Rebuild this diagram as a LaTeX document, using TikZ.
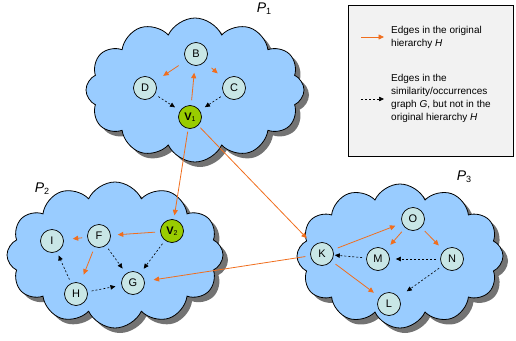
\documentclass[tikz,border=0pt]{standalone}
\usepackage{fontspec}
\setmainfont{Liberation Sans}
\usetikzlibrary{shapes.symbols,shadows,arrows.meta}
\definecolor{cloudblue}{RGB}{153,204,255}
\definecolor{nodefill}{RGB}{200,230,230}
\definecolor{vgreen}{RGB}{153,204,0}
\definecolor{horange}{RGB}{240,110,30}
\definecolor{legendgray}{RGB}{242,242,242}
\begin{document}
\begin{tikzpicture}[x=1pt,y=-1pt,
 cloudshape/.style={cloud, cloud puffs=12, cloud puff arc=130, cloud ignores aspect, draw=black, line width=0.8pt, fill=cloudblue, inner sep=0pt, drop shadow={shadow xshift=5pt, shadow yshift=-5pt, fill=black!55, opacity=1}},
 vtx/.style={circle, draw=black, line width=0.7pt, fill=nodefill, minimum size=23pt, inner sep=0pt, font=\fontsize{11}{11}\selectfont},
 vgr/.style={vtx, fill=vgreen},
 hedge/.style={draw=horange, line width=0.8pt, -{Triangle[length=5.5pt,width=5pt]}, shorten >=7pt, shorten <=5pt},
 gedge/.style={draw=black, line width=0.6pt, dash pattern=on 2pt off 2pt, -{Triangle[length=5pt,width=4.5pt]}, shorten >=6pt, shorten <=4pt},
 plabel/.style={font=\fontsize{14}{14}\selectfont},
 legtext/.style={anchor=west, align=left, inner sep=0pt, font=\fontsize{10}{13}\selectfont}]
\useasboundingbox (0,0) rectangle (516,340);
% clouds
\node[cloudshape, minimum width=218pt, minimum height=144pt] (P1c) at (195,90) {};
\node[cloudshape, minimum width=216pt, minimum height=146pt] (P2c) at (115,255) {};
\node[cloudshape, minimum width=206pt, minimum height=144pt] (P3c) at (400,256) {};
% labels
\node[plabel] (P1) at (264,9) {\textit{P}{\fontsize{9}{9}\selectfont\raisebox{-2pt}{1}}};
\node[plabel] (P2) at (42,189) {\textit{P}{\fontsize{9}{9}\selectfont\raisebox{-2pt}{2}}};
\node[plabel] (P3) at (464,177) {\textit{P}{\fontsize{9}{9}\selectfont\raisebox{-2pt}{3}}};
% P1 nodes
\node[vtx] (B) at (196,54) {B};
\node[vtx] (D) at (145,88) {D};
\node[vtx] (C) at (234,88) {C};
\node[vgr] (V1) at (190,117) {\textbf{V}{\fontsize{7}{7}\selectfont\raisebox{-1pt}{1}}};
% P2 nodes
\node[vtx] (I) at (52,241) {I};
\node[vtx] (F) at (99,236) {F};
\node[vgr] (V2) at (172,231) {\textbf{V}{\fontsize{7}{7}\selectfont\raisebox{-1pt}{2}}};
\node[vtx] (H) at (76,294) {H};
\node[vtx] (G) at (133,283) {G};
% P3 nodes
\node[vtx] (O) at (413,219) {O};
\node[vtx] (K) at (322,254) {K};
\node[vtx] (M) at (378,259) {M};
\node[vtx] (N) at (452,259) {N};
\node[vtx] (L) at (389,304) {L};
% hierarchy edges
\draw[hedge, shorten <=9pt, shorten >=10pt] (B) -- (D);
\draw[hedge, shorten <=9pt, shorten >=10pt] (B) -- (C);
\draw[hedge] (V1) -- (B);
\draw[hedge, shorten <=3pt, shorten >=4pt] (V1) -- (V2);
\draw[hedge, shorten <=3pt, shorten >=10pt] (V1) -- (K);
\draw[hedge] (V2) -- (F);
\draw[hedge, shorten >=9pt] (F) -- (I);
\draw[hedge, shorten >=9pt] (F) -- (H);
\draw[hedge, shorten >=9pt] (K) -- (G);
\draw[hedge] (K) -- (O);
\draw[hedge] (K) -- (L);
\draw[hedge] (O) -- (M);
\draw[hedge] (O) -- (N);
% similarity edges
\draw[gedge] (D) -- (V1);
\draw[gedge] (C) -- (V1);
\draw[gedge] (V2) -- (G);
\draw[gedge] (F) -- (G);
\draw[gedge, shorten >=4pt] (H) -- (I);
\draw[gedge] (H) -- (G);
\draw[gedge, shorten >=1pt] (M) -- (K);
\draw[gedge] (N) -- (M);
\draw[gedge, shorten >=10pt] (N) -- (L);
% legend
\node[draw=black, line width=0.6pt, fill=legendgray, minimum width=165pt, minimum height=151pt, anchor=north west, inner sep=0pt] (legend) at (348,5) {};
\coordinate (la1) at (361,37);
\coordinate (la2) at (384,37);
\coordinate (lb1) at (361,99);
\coordinate (lb2) at (384,99);
\draw[draw=horange, line width=0.8pt, -{Triangle[length=5.5pt,width=5pt]}] (la1) -- (la2);
\draw[draw=black, line width=0.6pt, dash pattern=on 2pt off 2pt, -{Triangle[length=5pt,width=4.5pt]}] (lb1) -- (lb2);
\node[legtext] (lt1) at (391,37.5) {Edges in the original\\hierarchy \textit{H}};
\node[legtext] (lt2) at (391,98) {Edges in the\\similarity/occurrences\\graph \textit{G}, but not in the\\original hierarchy \textit{H}};
\end{tikzpicture}
\end{document}
